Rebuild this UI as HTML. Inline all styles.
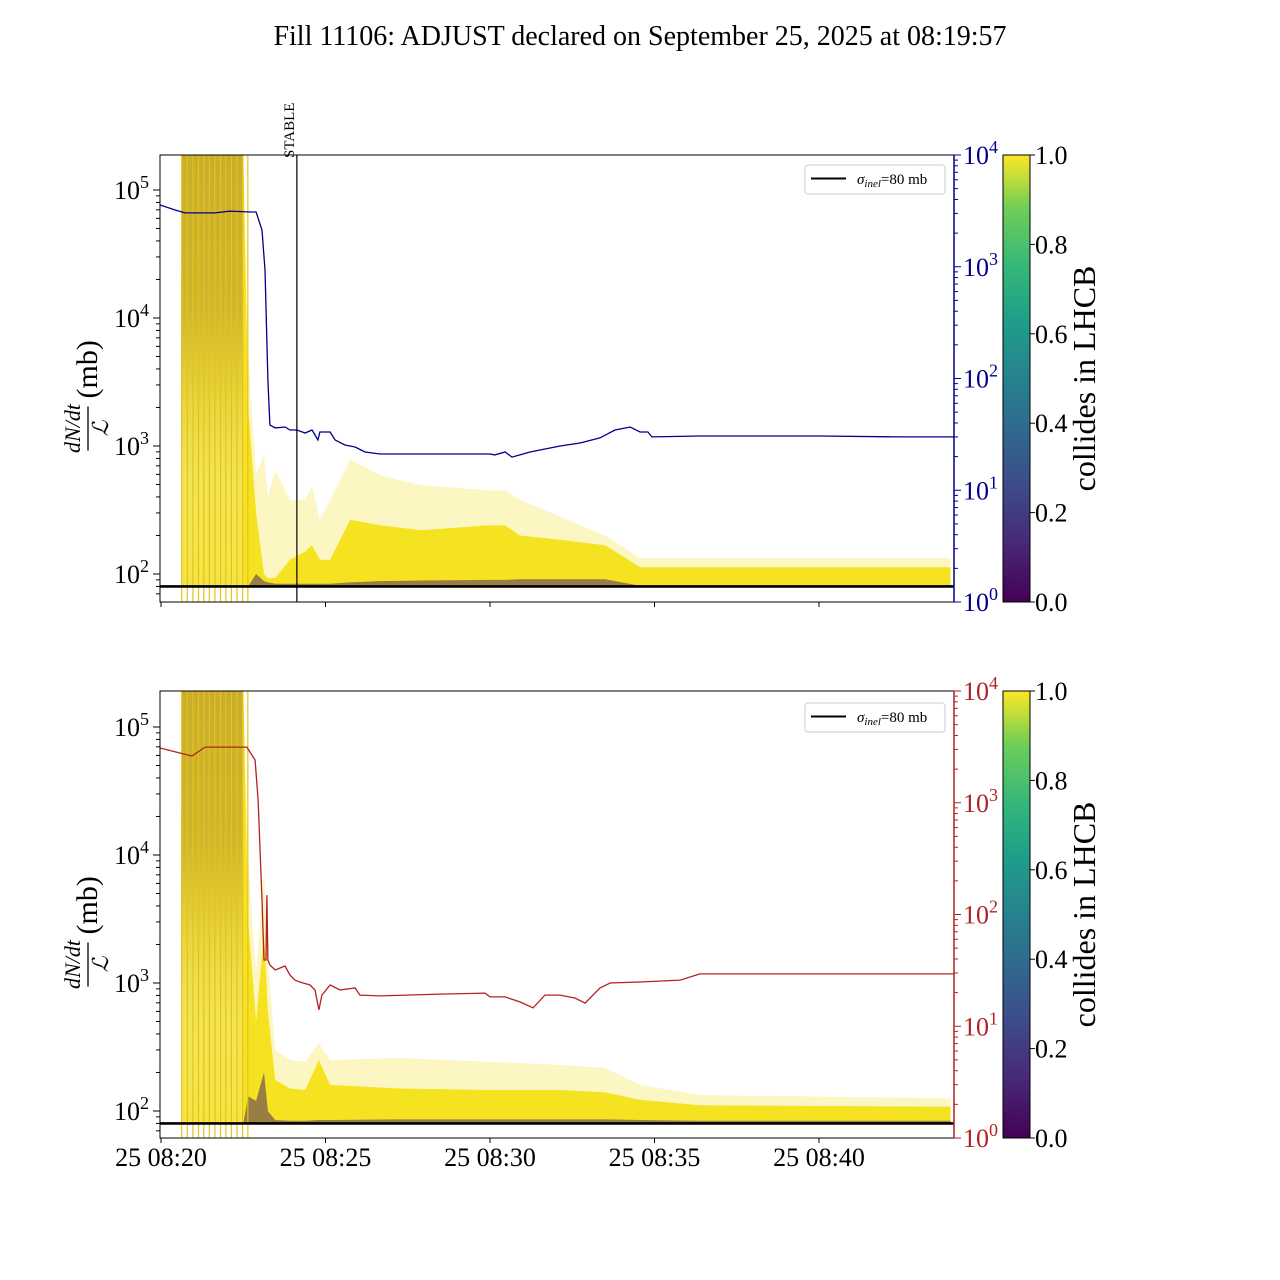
<!DOCTYPE html>
<html><head><meta charset="utf-8"><style>
html,body{margin:0;padding:0;background:#fff}
svg{display:block;font-family:"Liberation Serif",serif}
</style></head><body>
<svg id="chart" width="1280" height="1280" viewBox="0 0 1280 1280" xmlns="http://www.w3.org/2000/svg">
<defs>
<linearGradient id="viridis" x1="0" y1="1" x2="0" y2="0">
<stop offset="0" stop-color="#440154"/><stop offset="0.13" stop-color="#482878"/><stop offset="0.25" stop-color="#3e4989"/><stop offset="0.38" stop-color="#31688e"/><stop offset="0.5" stop-color="#26828e"/><stop offset="0.63" stop-color="#1f9e89"/><stop offset="0.75" stop-color="#35b779"/><stop offset="0.88" stop-color="#6ece58"/><stop offset="1" stop-color="#fde725"/>
</linearGradient>
<linearGradient id="blockTop" x1="0" y1="0" x2="0" y2="1">
<stop offset="0" stop-color="#c9ae2c"/><stop offset="0.35" stop-color="#cfb62c"/><stop offset="0.55" stop-color="#e6d33a"/><stop offset="0.75" stop-color="#f2e46a" stop-opacity="0.7"/><stop offset="1" stop-color="#f6ea8a" stop-opacity="0.3"/>
</linearGradient>
</defs>
<text x="640" y="45" font-size="28" text-anchor="middle">Fill 11106: ADJUST declared on September 25, 2025 at 08:19:57</text>
<g id="g1"></g><g id="g2"></g>
</svg>
<script>
// ---- data ----
const xTickMinutes = [0, 5, 10, 15, 20];
const xTickLabels = ["25 08:20", "25 08:25", "25 08:30", "25 08:35", "25 08:40"];
const cbTicks = [0.0, 0.2, 0.4, 0.6, 0.8, 1.0];
const sigmaInel = 80;
const stableMinute = 4.13;
const injTimes = [0.63, 0.80, 0.97, 1.14, 1.30, 1.47, 1.64, 1.81, 1.97, 2.14, 2.31, 2.48, 2.64];

const tBlue = [-0.03,0.43,0.73,1.19,1.64,2.10,2.71,2.89,3.07,3.16,3.25,3.31,3.47,3.77,3.92,4.13,4.38,4.59,4.77,4.83,5.14,5.29,5.59,5.90,6.20,6.66,7.26,8.18,9.09,10.0,10.15,10.46,10.67,10.91,11.22,11.52,12.13,12.74,13.34,13.80,14.26,14.56,14.80,14.92,16.38,18.21,20.03,22.46,24.10];
const vBlue = [3570,3220,3030,3030,3030,3150,3090,3090,2130,935,97,38.4,36.1,36.8,34.6,34.6,32.5,34.6,28.2,33.2,33.2,28.2,25.4,24.4,22.0,21.1,21.1,21.1,21.1,21.1,20.7,22.0,19.8,20.7,22.0,22.9,24.9,26.5,29.4,34.6,36.8,33.2,33.2,30.0,30.6,30.6,30.6,30.0,30.0];
const tRed = [-0.03,0.94,1.34,2.61,2.86,2.95,3.07,3.13,3.19,3.22,3.25,3.31,3.47,3.77,3.92,4.07,4.22,4.53,4.68,4.80,4.89,5.14,5.44,5.90,6.05,6.66,8.48,9.85,10.0,10.46,10.91,11.31,11.67,12.13,12.58,12.89,13.34,13.65,14.56,15.78,16.38,18.21,22.46,24.10];
const vRed = [3090,2620,3150,3150,2410,1060,135,39.2,39.2,149,39.2,35.3,31.9,34.6,28.7,25.9,24.9,23.4,21.1,14.0,19.0,23.4,21.1,22.0,19.0,18.7,19.4,19.8,18.3,18.3,16.5,14.6,19.0,19.0,17.9,16.1,22.0,24.4,24.9,25.9,29.4,29.4,29.4,29.4];

const tTop = [0.62,2.50,2.65,2.89,3.13,3.25,3.47,3.92,4.38,4.59,4.83,5.14,5.75,6.66,7.90,10.0,10.46,10.91,12.13,13.50,14.56,24.0];
const maxTop = [2e5,2e5,5000,600,850,400,650,380,380,480,265,380,780,590,495,450,450,380,280,200,133,133];
const denseTop = [2e5,2e5,2000,300,100,93,93,129,150,168,129,129,265,240,220,240,240,200,185,168,113,113];
const darkTop = [80,80,80,100,88,86,84,84,84,84,84,84,86,88,89,90,90,91,91,91,81,81];
const tBot = [0.62,2.50,2.65,2.89,3.13,3.25,3.47,3.92,4.38,4.80,5.14,7.26,10.0,12.13,13.50,14.56,16.38,24.0];
const maxBot = [2e5,2e5,9000,1200,7600,1500,300,250,242,337,250,260,242,229,217,160,133,126];
const denseBot = [2e5,2e5,3000,500,2500,600,175,150,146,250,160,150,146,146,140,122,111,108];
const darkBot = [80,80,130,120,200,100,85,84,84,85,85,86,86,86,86,85,84,84];

// ---- layout ----
const X0 = 161, PXM = 32.9;
const xT = t => X0 + t * PXM;
const panels = [
 {g:'g1', top:155, bot:602, y100:574, lineCol:'#00008b', tl:tBlue, vl:vBlue, tb:tTop, mx:maxTop, dn:denseTop, dk:darkTop, labels:false, legY:165},
 {g:'g2', top:691, bot:1138, y100:1111, lineCol:'#b22222', tl:tRed, vl:vRed, tb:tBot, mx:maxBot, dn:denseBot, dk:darkBot, labels:true, legY:703}
];
const NS = 'http://www.w3.org/2000/svg';
function mk(tag, attrs, parent){const e=document.createElementNS(NS,tag);for(const k in attrs)e.setAttribute(k,attrs[k]);parent.appendChild(e);return e;}
const XL = 160, XR = 954;

panels.forEach((P, pi) => {
 const g = document.getElementById(P.g);
 const yL = v => P.y100 - (Math.log10(v) - 2) * 128;
 const yR = v => P.bot - Math.log10(v) * (P.bot - P.top) / 4;
 const cid = 'clip' + pi;
 const cp = mk('clipPath', {id: cid}, g);
 mk('rect', {x: XL, y: P.top, width: XR - XL, height: P.bot - P.top}, cp);
 const plot = mk('g', {'clip-path': 'url(#' + cid + ')'}, g);
 
 
 const y80 = yL(sigmaInel);
 function band(arr, fill, op, name) {
  let d = 'M' + xT(P.tb[0]) + ',' + y80;
  P.tb.forEach((t, i) => { d += ' L' + xT(t).toFixed(1) + ',' + Math.max(P.top - 5, yL(arr[i])).toFixed(1); });
  d += ' L' + xT(P.tb[P.tb.length - 1]) + ',' + y80 + 'Z';
  const p = mk('path', {d: d, fill: fill, 'fill-opacity': op}, plot);
  
  
 }
 band(P.mx, '#f8ec7a', 0.45, 'bunch-envelope');
 band(P.dn, '#f5e322', 1, 'bunch-dense-band');
 const blk = mk('rect', {x: xT(tTop[0]), y: P.top, width: xT(2.5) - xT(tTop[0]), height: y80 - P.top, fill: 'url(#blockTop)'}, plot);
 
 
 band(P.dk, '#4a2a62', 0.55, 'bunch-low-colliding-band');
 injTimes.forEach(t => {
  const l = mk('line', {x1: xT(t), x2: xT(t), y1: P.top, y2: P.bot, stroke: '#e6c21a', 'stroke-width': 1.2}, plot);
  
  
 });
 const sl = mk('line', {x1: XL, x2: XR, y1: y80, y2: y80, stroke: '#000', 'stroke-width': 2.6}, plot);
 
 
 const pts = P.tl.map((t, i) => xT(t).toFixed(1) + ',' + yR(P.vl[i]).toFixed(1)).join(' ');
 const pl = mk('polyline', {points: pts, fill: 'none', stroke: P.lineCol, 'stroke-width': 1.3}, plot);
 
 
 if (pi === 0) {
  const st = mk('line', {x1: xT(stableMinute), x2: xT(stableMinute), y1: P.top, y2: P.bot, stroke: '#000', 'stroke-width': 1.2}, g);
  
  
  const stt = mk('text', {x: 0, y: 0, 'font-size': 15, transform: 'translate(' + (xT(stableMinute) - 3) + ',158) rotate(-90)'}, g);
  stt.textContent = 'STABLE';
  
  
 }
 const fr = mk('rect', {x: XL, y: P.top, width: XR - XL, height: P.bot - P.top, fill: 'none', stroke: '#000', 'stroke-width': 1}, g);
 
 
 for (let e = 1; e <= 5; e++) {
  for (let m = 1; m < 10; m++) {
   const v = m * Math.pow(10, e), y = yL(v);
   if (y < P.top || y > P.bot) continue;
   mk('line', {x1: XL - (m === 1 ? 7 : 4), x2: XL, y1: y, y2: y, stroke: '#000', 'stroke-width': 1}, g);
  }
  const y = yL(Math.pow(10, e));
  if (y >= P.top && y <= P.bot) {
   const tx = mk('text', {x: 114, y: y + 9, 'font-size': 26}, g);
   tx.innerHTML = '10<tspan dy="-11" font-size="18">' + e + '</tspan>';
   
   
  }
 }
 mk('line', {x1: XR, x2: XR, y1: P.top, y2: P.bot, stroke: P.lineCol, 'stroke-width': 1.5}, g);
 for (let e = 0; e <= 4; e++) {
  for (let m = 1; m < 10; m++) {
   if (e === 4 && m > 1) break;
   const y = yR(m * Math.pow(10, e));
   mk('line', {x1: XR, x2: XR + (m === 1 ? 7 : 4), y1: y, y2: y, stroke: P.lineCol, 'stroke-width': 1}, g);
  }
  const y = yR(Math.pow(10, e));
  const tx = mk('text', {x: 963, y: y + 9, 'font-size': 26, fill: P.lineCol}, g);
  tx.innerHTML = '10<tspan dy="-11" font-size="18">' + e + '</tspan>';
  
  
 }
 xTickMinutes.forEach((t, i) => {
  mk('line', {x1: xT(t), x2: xT(t), y1: P.bot, y2: P.bot + 5, stroke: '#000', 'stroke-width': 1}, g);
  if (P.labels) {
   const tx = mk('text', {x: xT(t), y: P.bot + 28, 'font-size': 26, 'text-anchor': 'middle'}, g);
   tx.textContent = xTickLabels[i];
   
   
  }
 });
 const cy = (P.top + P.bot) / 2;
 const yl = mk('g', {transform: 'translate(88,' + cy + ') rotate(-90)'}, g);
 
 
 const num = mk('text', {x: -50, y: -8, 'font-size': 22, 'font-style': 'italic', 'text-anchor': 'middle'}, yl);
 num.textContent = 'dN/dt';
 mk('line', {x1: -72, x2: -28, y1: 0, y2: 0, stroke: '#000', 'stroke-width': 1.3}, yl);
 const den = mk('text', {x: -50, y: 20, 'font-size': 22, 'font-style': 'italic', 'text-anchor': 'middle'}, yl);
 den.textContent = 'ℒ';
 const mb = mk('text', {x: -20, y: 9, 'font-size': 30}, yl);
 mb.textContent = '(mb)';
 const lg = mk('g', {}, g);
 
 
 mk('rect', {x: 805, y: P.legY, width: 140, height: 29, rx: 3, fill: '#fff', stroke: '#ccc', 'stroke-width': 1}, lg);
 mk('line', {x1: 811, x2: 846, y1: P.legY + 13.5, y2: P.legY + 13.5, stroke: '#000', 'stroke-width': 2}, lg);
 const lt = mk('text', {x: 857, y: P.legY + 19, 'font-size': 15}, lg);
 lt.innerHTML = '<tspan font-style="italic">σ</tspan><tspan font-style="italic" font-size="11" dy="3">inel</tspan><tspan dy="-3">=80 mb</tspan>';
 const cb = mk('rect', {x: 1003, y: P.top, width: 27, height: P.bot - P.top, fill: 'url(#viridis)', stroke: '#000', 'stroke-width': 1}, g);
 
 
 cbTicks.forEach(v => {
  const y = P.bot - v * (P.bot - P.top);
  mk('line', {x1: 1030, x2: 1035, y1: y, y2: y, stroke: '#000', 'stroke-width': 1}, g);
  const tx = mk('text', {x: 1035, y: y + 9, 'font-size': 26}, g);
  tx.textContent = v.toFixed(1);
  
  
 });
 const ct = mk('text', {x: 0, y: 0, 'font-size': 32, 'text-anchor': 'middle', transform: 'translate(1095,' + cy + ') rotate(-90)'}, g);
 ct.textContent = 'collides in LHCB';
 
 
});
</script>
</body></html>
